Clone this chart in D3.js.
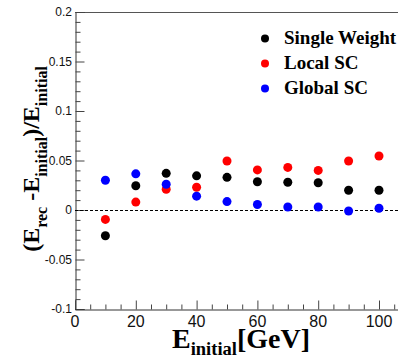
<!DOCTYPE html>
<html>
<head>
<meta charset="utf-8">
<script src="https://cdn.jsdelivr.net/npm/d3@7"></script>
<style>
html,body{margin:0;padding:0;background:#fff;}
svg{display:block;}
</style>
</head>
<body>
<svg id="chart" width="398" height="358"></svg>
<script>
const energies = [10, 20, 30, 40, 50, 60, 70, 80, 90, 100];
const singleWeight = [-0.026, 0.0245, 0.037, 0.0345, 0.033, 0.0285, 0.028, 0.0275, 0.020, 0.020];
const localSC = [-0.0095, 0.008, 0.021, 0.023, 0.0495, 0.0405, 0.043, 0.040, 0.0495, 0.0545];
const globalSC = [0.030, 0.0365, 0.026, 0.014, 0.0085, 0.0055, 0.003, 0.003, -0.001, 0.0018];
const seriesNames = ["Single Weight", "Local SC", "Global SC"];
const seriesColors = ["#000000", "#ff0000", "#0000ff"];
const xTicks = [0, 20, 40, 60, 80, 100];
const yTicks = [-0.1, -0.05, 0, 0.05, 0.1, 0.15, 0.2];
const yTickLabels = ["-0.1", "-0.05", "0", "0.05", "0.1", "0.15", "0.2"];

(function () {
const SERIF = "'Liberation Serif', 'Times New Roman', Times, serif";
const SANS = "'Liberation Sans', Arial, sans-serif";
const svg = d3.select("#chart");
const mLeft = 75, mTop = 12, mBottom = 309;
const x = d3.scaleLinear().domain([0, 110]).range([mLeft, mLeft + 110 * 3.04]);
const y = d3.scaleLinear().domain([-0.1, 0.2]).range([mBottom, mTop]);

// frame
svg.append("line").attr("x1", mLeft).attr("x2", 398).attr("y1", mTop + 0.5).attr("y2", mTop + 0.5)
  .attr("stroke", "#555").attr("stroke-width", 1);

// y axis
const yAxis = d3.axisRight(y).tickValues(yTicks).tickSize(9).tickFormat("");
svg.append("g").attr("transform", `translate(${mLeft + 0.5},0)`).call(yAxis);
const yMinor = d3.range(-10, 21, 1).map(v => v / 100).filter(v => !yTicks.some(t => Math.abs(t - v) < 1e-6));
svg.append("g").attr("transform", `translate(${mLeft + 0.5},0)`)
  .call(d3.axisRight(y).tickValues(yMinor).tickSize(5).tickFormat(""))
  .call(g => g.select(".domain").remove());

// x axis
const xAxis = d3.axisTop(x).tickValues(xTicks).tickSize(9).tickFormat("");
svg.append("g").attr("transform", `translate(0,${mBottom + 0.5})`).call(xAxis);
const xMinor = d3.range(5, 110, 5).filter(v => v % 20 !== 0);
svg.append("g").attr("transform", `translate(0,${mBottom + 0.5})`)
  .call(d3.axisTop(x).tickValues(xMinor).tickSize(5).tickFormat(""))
  .call(g => g.select(".domain").remove());

svg.selectAll(".domain").attr("stroke", "#333");
svg.selectAll(".tick line").attr("stroke", "#444");

// tick labels
svg.append("g").selectAll("text").data(yTicks).join("text")
  .attr("x", 72).attr("y", d => y(d)).attr("dy", "0.36em")
  .attr("text-anchor", "end")
  .attr("font-family", SANS).attr("font-size", 12)
  .attr("fill", "#111")
  .text((d, i) => yTickLabels[i]);

svg.append("g").selectAll("text").data(xTicks).join("text")
  .attr("x", d => x(d)).attr("y", 326.5)
  .attr("text-anchor", "middle")
  .attr("font-family", SANS).attr("font-size", 16)
  .attr("fill", "#111")
  .text(d => d);

// zero dashed line
svg.append("line").attr("x1", x(0)).attr("x2", x(110)).attr("y1", y(0) + 0.5).attr("y2", y(0) + 0.5)
  .attr("stroke", "#000").attr("stroke-width", 1).attr("stroke-dasharray", "3,2");

// data points
const allSeries = [singleWeight, localSC, globalSC];
allSeries.forEach((vals, si) => {
  svg.append("g").selectAll("circle").data(vals).join("circle")
    .attr("cx", (d, i) => x(energies[i]))
    .attr("cy", d => y(d))
    .attr("r", 4.5)
    .attr("fill", seriesColors[si]);
});

// legend
const legendY = [43.5, 68.5, 93.5];
seriesNames.forEach((name, i) => {
  svg.append("circle").attr("cx", 265).attr("cy", legendY[i] - 5).attr("r", 4).attr("fill", seriesColors[i]);
  svg.append("text").attr("x", 284).attr("y", legendY[i])
    .attr("font-family", SERIF).attr("font-weight", "bold")
    .attr("font-size", 19).attr("fill", "#000").text(name);
});

// x title
const xt = svg.append("text").attr("x", 172).attr("y", 347.5)
  .attr("font-family", SERIF).attr("font-weight", "bold")
  .attr("font-size", 28).attr("fill", "#000");
xt.append("tspan").text("E");
xt.append("tspan").attr("font-size", 18.5).attr("dy", 7.5).text("initial");
xt.append("tspan").attr("dy", -7.5).text("[GeV]");

// y title
const yt = svg.append("text").attr("transform", "translate(39,159) rotate(-90)")
  .attr("text-anchor", "middle")
  .attr("font-family", SERIF).attr("font-weight", "bold")
  .attr("font-size", 24).attr("fill", "#000");
yt.append("tspan").text("(E");
yt.append("tspan").attr("font-size", 16).attr("dy", 8).text("rec");
yt.append("tspan").attr("dy", -8).text(" -E");
yt.append("tspan").attr("font-size", 16).attr("dy", 8).text("initial");
yt.append("tspan").attr("dy", -8).text(")/E");
yt.append("tspan").attr("font-size", 16).attr("dy", 8).text("initial");
})();
</script>
</body>
</html>
